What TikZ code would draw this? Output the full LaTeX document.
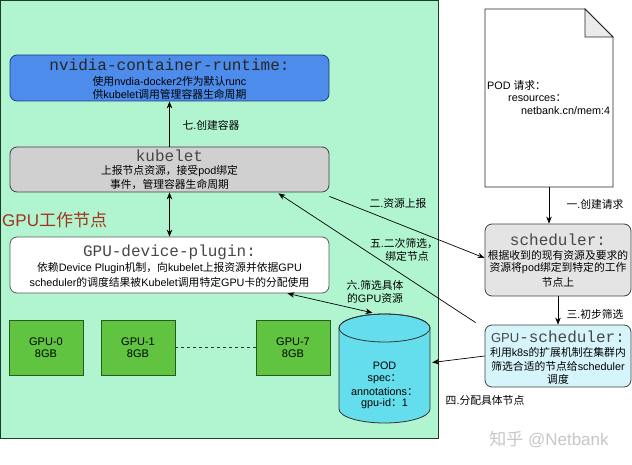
\documentclass[tikz,border=0pt]{standalone}
\usepackage{fontspec}
\setmainfont{Liberation Sans}
\newfontfamily\cjk{Noto Sans CJK SC}
\newfontfamily\monof{Liberation Mono}
\usetikzlibrary{arrows.meta,calc}
% automatic switch to the CJK font for CJK characters
\XeTeXinterchartokenstate=1
\newXeTeXintercharclass\cjkclass
\newcount\cjkcnt
\def\setcjkrange#1#2{\cjkcnt=#1\relax\loop\XeTeXcharclass\cjkcnt=\cjkclass\relax\ifnum\cjkcnt<#2\relax\advance\cjkcnt by 1\relax\repeat}
\setcjkrange{"3000}{"303F}
\setcjkrange{"4E00}{"9FFF}
\setcjkrange{"FF00}{"FFEF}
\XeTeXinterchartoks 0 \cjkclass={\cjk}
\XeTeXinterchartoks 4095 \cjkclass={\cjk}
\XeTeXinterchartoks \cjkclass 0={\rmfamily}
\XeTeXinterchartoks \cjkclass 4095={\rmfamily}
\definecolor{panelfill}{RGB}{176,245,208}
\definecolor{panelline}{RGB}{30,60,40}
\definecolor{nvfill}{RGB}{77,140,235}
\definecolor{nvline}{RGB}{30,60,140}
\definecolor{kubfill}{RGB}{208,208,208}
\definecolor{gpufill}{RGB}{96,196,64}
\definecolor{gpuline}{RGB}{40,90,30}
\definecolor{cylfill}{RGB}{100,222,236}
\definecolor{schfill}{RGB}{228,228,228}
\definecolor{gsfill}{RGB}{214,245,250}
\definecolor{nodetitle}{RGB}{165,50,30}
\begin{document}
\begin{tikzpicture}[x=1pt,y=-1pt,
  boxbase/.style={draw, line width=0.8pt, rounded corners=7pt, inner sep=0},
  txt/.style={inner sep=0, font=\fontsize{10.8}{13}\selectfont},
  ttl/.style={inner sep=0, text=black!72, font=\monof\fontsize{16}{16}\selectfont},
  gpubox/.style={draw=gpuline, fill=gpufill, line width=0.8pt, minimum width=74pt, minimum height=55pt, inner sep=0, align=center, font=\fontsize{11}{12.5}\selectfont},
  arr/.style={line width=0.7pt, -{Stealth[length=7pt,width=5.5pt]}},
  darr/.style={line width=0.7pt, {Stealth[length=7pt,width=5.5pt]}-{Stealth[length=7pt,width=5.5pt]}},
  lbl/.style={inner sep=0, align=center, font=\fontsize{10.8}{13}\selectfont}
]
\useasboundingbox (0,0) rectangle (632,465);
\fill[white] (0,0) rectangle (632,465);
% panel
\node[draw=panelline, fill=panelfill, line width=0.9pt, minimum width=438pt, minimum height=438pt, inner sep=0] (panel) at (219.5,219.5) {};
\node[anchor=west, inner sep=0, text=nodetitle, font=\fontsize{17}{17}\selectfont] (ptitle) at (2,220) {GPU工作节点};
% nvidia
\node[boxbase, draw=nvline, fill=nvfill, minimum width=319pt, minimum height=46pt] (nv) at (169.5,78) {};
\node[ttl, text=black!85] (nvt) at (169.5,65) {nvidia-container-runtime:};
\node[txt] (nv1) at (169.5,81) {使用nvdia-docker2作为默认runc};
\node[txt] (nv2) at (169.5,94) {供kubelet调用管理容器生命周期};
% kubelet
\node[boxbase, draw=black!75, fill=kubfill, minimum width=319pt, minimum height=45pt] (kub) at (169.5,169.5) {};
\node[ttl] (kubt) at (169.5,156) {kubelet};
\node[txt] (kub1) at (169.5,171) {上报节点资源，接受pod绑定};
\node[txt] (kub2) at (169.5,184) {事件，管理容器生命周期};
% plugin
\node[boxbase, draw=black!65, fill=white, minimum width=319pt, minimum height=56pt] (plg) at (169.5,265) {};
\node[ttl] (plgt) at (169.5,252) {GPU-device-plugin:};
\node[txt] (plg1) at (169.5,268) {依赖Device Plugin机制，向kubelet上报资源并依据GPU};
\node[txt] (plg2) at (169.5,282) {scheduler的调度结果被Kubelet调用特定GPU卡的分配使用};
% GPUs
\node[gpubox] (g0) at (46,347.5) {GPU-0\\8GB};
\node[gpubox] (g1) at (138,347.5) {GPU-1\\8GB};
\node[gpubox] (g7) at (293,347.5) {GPU-7\\8GB};
\draw[dashed, line width=0.6pt, black!80] (g1.east) -- (g7.west);
% cylinder
\filldraw[fill=cylfill, draw=black!80, line width=0.8pt] (339,328) -- (339,409) arc[start angle=180, end angle=360, x radius=45.5pt, y radius=14pt] -- (430,328) arc[start angle=0, end angle=180, x radius=45.5pt, y radius=14pt] -- cycle;
\draw[black!80, line width=0.8pt] (384.5,328) ellipse[x radius=45.5pt, y radius=14pt];
\node[minimum width=91pt, minimum height=109pt, inner sep=0] (cyl) at (384.5,368.5) {};
\node[txt] (cy1) at (384.5,366) {POD};
\node[txt] (cy2) at (384.5,379) {spec：};
\node[txt] (cy3) at (384.5,392) {annotations：};
\node[txt] (cy4) at (384.5,404) {gpu-id：1};
% POD document
\draw[line width=0.8pt, black!85, fill=white] (485,9) -- (585,9) -- (613,37) -- (613,187) -- (485,187) -- cycle;
\draw[line width=0.8pt, black!85, fill=black!8] (585,9) -- (585,37) -- (613,37) -- cycle;
\node[minimum width=128pt, minimum height=178pt, inner sep=0] (doc) at (549,98) {};
\node[txt, anchor=west] (d1) at (487,85) {POD 请求：};
\node[txt, anchor=west] (d2) at (508,98) {resources：};
\node[txt, anchor=west] (d3) at (521,111) {netbank.cn/mem:4};
% scheduler
\node[boxbase, draw=black!75, fill=schfill, minimum width=146pt, minimum height=72pt] (sch) at (558,260) {};
\node[ttl] (scht) at (558,240) {scheduler:};
\node[txt] (sch1) at (558,255) {根据收到的现有资源及要求的};
\node[txt] (sch2) at (558,268) {资源将pod绑定到特定的工作};
\node[txt] (sch3) at (558,282) {节点上};
% GPU-scheduler
\node[boxbase, draw=black!75, fill=gsfill, minimum width=146pt, minimum height=62pt] (gs) at (558,356) {};
\node[inner sep=0, text=black!72] (gst) at (558,337) {{\fontsize{13}{13}\selectfont GPU}{\monof\fontsize{16}{16}\selectfont -scheduler:}};
\node[txt] (gs1) at (558,352) {利用k8s的扩展机制在集群内};
\node[txt] (gs2) at (558,366) {筛选合适的节点给scheduler};
\node[txt] (gs3) at (558,379) {调度};
% connectors
\draw[arr] (kub.north) -- (nv.south);
\node[lbl] (l7) at (211,125) {七.创建容器};
\draw[darr] (kub.south) -- (plg.north);
\draw[arr] (doc.south) -- (sch.north -| doc.south);
\node[lbl] (l1) at (595,204) {一.创建请求};
\draw[arr] ([yshift=-4pt]kub.south east) -- ([yshift=2pt]sch.west);
\node[lbl] (l2) at (398,203) {二.资源上报};
\draw[arr] (sch.south) -- (gs.north);
\node[lbl] (l3) at (595,314) {三.初步筛选};
\draw[arr] (gs.west) -- ([xshift=2pt,yshift=6pt]cyl.east);
\node[lbl] (l4) at (485,400) {四.分配具体节点};
\draw[arr] ([xshift=-9pt,yshift=2pt]gs.north west) -- ([xshift=-51pt,yshift=-1pt]kub.south east);
\node[lbl] (l5) at (404,250) {五.二次筛选，\\\hspace*{6pt}绑定节点};
\draw[darr] ([xshift=-42pt]plg.south east) -- ([xshift=-12pt,yshift=1pt]cyl.north);
\node[lbl] (l6) at (375,292) {六.筛选具体\\的GPU资源};
% watermark
\node[inner sep=0, text=black!22, font=\fontsize{17}{17}\selectfont] (wm) at (549,440) {知乎 @Netbank};
\end{tikzpicture}
\end{document}
